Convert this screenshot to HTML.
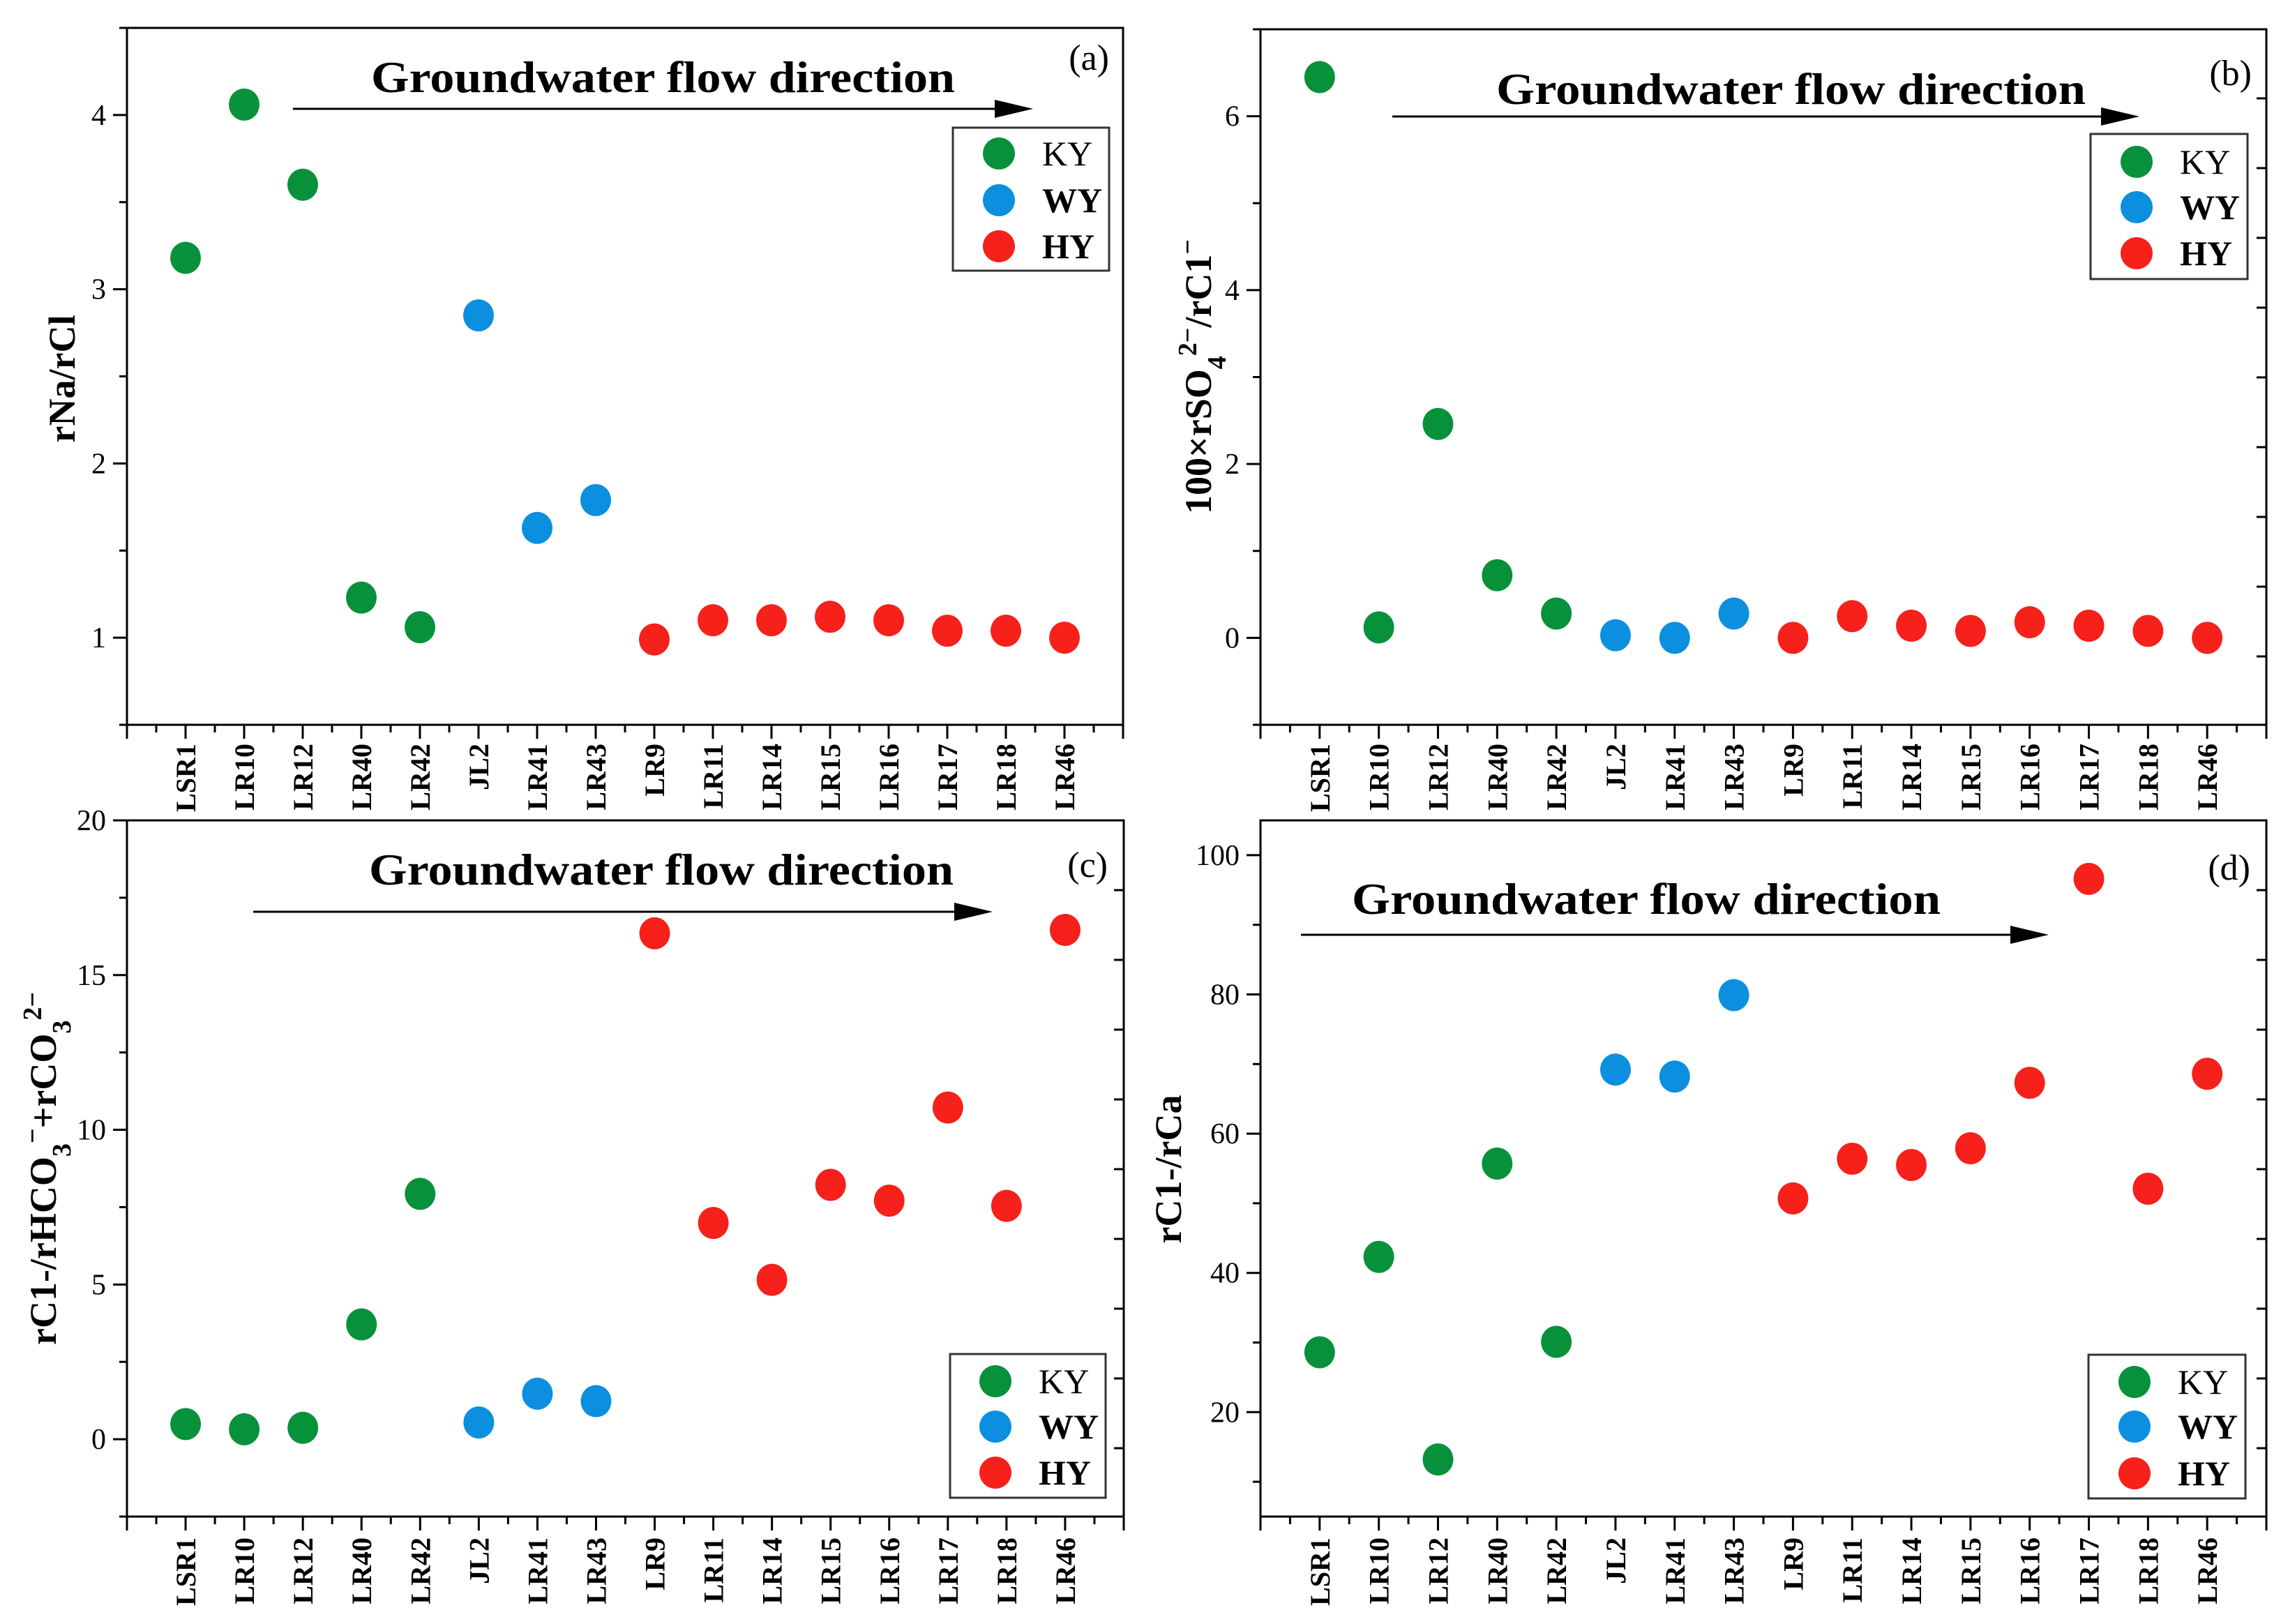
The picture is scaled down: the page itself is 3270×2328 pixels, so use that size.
<!DOCTYPE html>
<html><head><meta charset="utf-8"><style>
html,body{margin:0;padding:0;background:#fff;}
svg{display:block;font-family:"Liberation Serif",serif;}
</style></head><body>
<svg id="fig" width="3270" height="2328" viewBox="0 0 3270 2328" xmlns="http://www.w3.org/2000/svg"></svg>
<script>
const categories = ["LSR1","LR10","LR12","LR40","LR42","JL2","LR41","LR43","LR9","LR11","LR14","LR15","LR16","LR17","LR18","LR46"];
const groups = ["KY","KY","KY","KY","KY","WY","WY","WY","HY","HY","HY","HY","HY","HY","HY","HY"];
const valuesA = [3.18,4.06,3.60,1.23,1.06,2.85,1.63,1.79,0.99,1.10,1.10,1.12,1.10,1.04,1.04,1.00];
const valuesB = [6.45,0.12,2.46,0.72,0.28,0.03,0.00,0.28,0.00,0.25,0.14,0.08,0.18,0.14,0.08,0.00];
const valuesC = [0.49,0.32,0.37,3.71,7.93,0.54,1.47,1.23,16.35,6.99,5.15,8.22,7.71,10.72,7.54,16.46];
const valuesD = [28.6,42.3,13.2,55.7,30.1,69.2,68.2,79.9,50.7,56.4,55.5,57.9,67.3,96.6,52.1,68.6];
const ticksA = [1,2,3,4];
const ticksB = [0,2,4,6];
const ticksC = [0,5,10,15,20];
const ticksD = [20,40,60,80,100];
const legendLabels = ["KY","WY","HY"];

const colors = {KY:"#07913b", WY:"#0b8fde", HY:"#f5211a"};
const NS = "http://www.w3.org/2000/svg";
const svg = document.getElementById("fig");
function mk(tag, attrs, parent){
  const e = document.createElementNS(NS, tag);
  for (const k in attrs) e.setAttribute(k, attrs[k]);
  (parent||svg).appendChild(e);
  return e;
}

const panels = [
  {id:"a", L:182, R:1610, T:40, B:1039, yMin:0.5, yMax:4.5, minorStep:0.5, ticks:ticksA, vals:valuesA,
   title:{x:532,w:837,y:132}, arrow:{x1:420,x2:1481,y:156}, tag:{x:1590,y:100}, rightTicks:false,
   legend:{x:1366,y:183,w:224,h:205,mx:1432,my:[220,287,353]}, ylab:{x:107,y:543}, xlabY:1066},
  {id:"b", L:1807, R:3249, T:42, B:1039, yMin:-1, yMax:7, minorStep:1, ticks:ticksB, vals:valuesB,
   title:{x:2145,w:845,y:149}, arrow:{x1:1996,x2:3067,y:167}, tag:{x:3228,y:122}, rightTicks:true,
   legend:{x:2997,y:192,w:225,h:208,mx:3063,my:[232,297,363]}, ylab:{x:1736,y:540}, xlabY:1066},
  {id:"c", L:182, R:1611, T:1176, B:2174, yMin:-2.5, yMax:20, minorStep:2.5, ticks:ticksC, vals:valuesC,
   title:{x:529,w:838,y:1268}, arrow:{x1:363,x2:1423,y:1307}, tag:{x:1588,y:1257}, rightTicks:true,
   legend:{x:1362,y:1941,w:223,h:206,mx:1427,my:[1980,2045,2111]}, ylab:{x:80,y:1675}, xlabY:2204},
  {id:"d", L:1807, R:3249, T:1176, B:2174, yMin:5, yMax:105, minorStep:10, ticks:ticksD, vals:valuesD,
   title:{x:1938,w:844,y:1310}, arrow:{x1:1865,x2:2937,y:1340}, tag:{x:3226,y:1261}, rightTicks:true,
   legend:{x:2994,y:1942,w:225,h:206,mx:3060,my:[1981,2045,2112]}, ylab:{x:1693,y:1676}, xlabY:2204}
];

const ylabels = {
  a: [["rNa/rCl",""]],
  b: [["100×rSO",""],["4","sub"],["2−","super"],["/rC1",""],["−","super"]],
  c: [["rC1-/rHCO",""],["3","sub"],["−","super"],["+rCO",""],["3","sub"],["2−","super"]],
  d: [["rC1-/rCa",""]]
};

panels.forEach(p => {
  const g = mk("g", {});
  
  
  const n = categories.length + 1;
  const xs = i => p.L + (i + 1) * (p.R - p.L) / n;
  const ys = v => p.B - (v - p.yMin) * (p.B - p.T) / (p.yMax - p.yMin);

  const frame = mk("rect", {x:p.L, y:p.T, width:p.R-p.L, height:p.B-p.T, fill:"none", stroke:"#000", "stroke-width":3}, g);
  
  

  // x ticks
  for (let k = 0; k <= 2*n; k++) {
    const x = p.L + k * (p.R - p.L) / (2*n);
    const len = (k % 2 === 0) ? 20 : 11;
    mk("line", {x1:x, x2:x, y1:p.B, y2:p.B+len, stroke:"#000", "stroke-width":3}, g);
  }
  // x labels
  categories.forEach((c, i) => {
    const x = xs(i) + 14;
    const t = mk("text", {x:x, y:p.xlabY, transform:`rotate(-90 ${x} ${p.xlabY})`, "text-anchor":"end", "font-size":40, "font-weight":"bold", fill:"#000"}, g);
    t.textContent = c;
    
    
  });

  // y minor ticks
  for (let v = Math.ceil(p.yMin / p.minorStep) * p.minorStep; v <= p.yMax + 1e-9; v += p.minorStep) {
    const isMajor = p.ticks.some(t => Math.abs(t - v) < 1e-9);
    if (!isMajor) mk("line", {x1:p.L-11, x2:p.L, y1:ys(v), y2:ys(v), stroke:"#000", "stroke-width":3}, g);
  }
  // y major ticks
  p.ticks.forEach(v => {
    const y = ys(v);
    mk("line", {x1:p.L-20, x2:p.L, y1:y, y2:y, stroke:"#000", "stroke-width":3}, g);
    const t = mk("text", {x:p.L-30, y:y+14, "text-anchor":"end", "font-size":42, fill:"#000"}, g);
    t.textContent = v;
    
    
  });
  // right inward ticks (decorative)
  if (p.rightTicks) {
    for (let y = p.B - 98; y > p.T + 60; y -= 100) {
      mk("line", {x1:p.R-14, x2:p.R, y1:y, y2:y, stroke:"#000", "stroke-width":3}, g);
    }
  }

  // y axis title
  const yt = mk("text", {x:p.ylab.x, y:p.ylab.y, transform:`rotate(-90 ${p.ylab.x} ${p.ylab.y})`, "text-anchor":"middle", "font-size":54, "font-weight":"bold", fill:"#000"}, g);
  
  
  ylabels[p.id].forEach(([s, kind]) => {
    const ts = mk("tspan", {}, yt);
    if (kind) { ts.setAttribute("baseline-shift", kind); ts.setAttribute("font-size", 38); }
    ts.textContent = s;
  });

  // flow title and arrow
  const tt = mk("text", {x:p.title.x, y:p.title.y, textLength:p.title.w, lengthAdjust:"spacingAndGlyphs", "font-size":64, "font-weight":"bold", fill:"#000"}, g);
  tt.textContent = "Groundwater flow direction";
  
  
  const ar = mk("g", {}, g);
  
  
  mk("line", {x1:p.arrow.x1, x2:p.arrow.x2-50, y1:p.arrow.y, y2:p.arrow.y, stroke:"#000", "stroke-width":3}, ar);
  mk("polygon", {points:`${p.arrow.x2-55},${p.arrow.y-13} ${p.arrow.x2},${p.arrow.y} ${p.arrow.x2-55},${p.arrow.y+13}`, fill:"#000"}, ar);

  // panel tag
  const tg = mk("text", {x:p.tag.x, y:p.tag.y, "text-anchor":"end", "font-size":52, fill:"#000"}, g);
  tg.textContent = "(" + p.id + ")";
  
  

  // points
  p.vals.forEach((v, i) => {
    const c = mk("ellipse", {cx:xs(i), cy:ys(v), rx:22, ry:23, fill:colors[groups[i]]}, g);
    
    
  });

  // legend
  const lg = mk("g", {}, g);
  
  
  mk("rect", {x:p.legend.x, y:p.legend.y, width:p.legend.w, height:p.legend.h, fill:"#fff", stroke:"#333", "stroke-width":3}, lg);
  legendLabels.forEach((lab, k) => {
    const e = mk("g", {}, lg);
    
    
    mk("circle", {cx:p.legend.mx, cy:p.legend.my[k], r:23, fill:colors[lab]}, e);
    const t = mk("text", {x:p.legend.mx+62, y:p.legend.my[k]+17, "font-size":50, "font-weight":k===0?"normal":"bold", fill:"#000"}, e);
    t.textContent = lab;
  });
});
</script>
</body></html>
